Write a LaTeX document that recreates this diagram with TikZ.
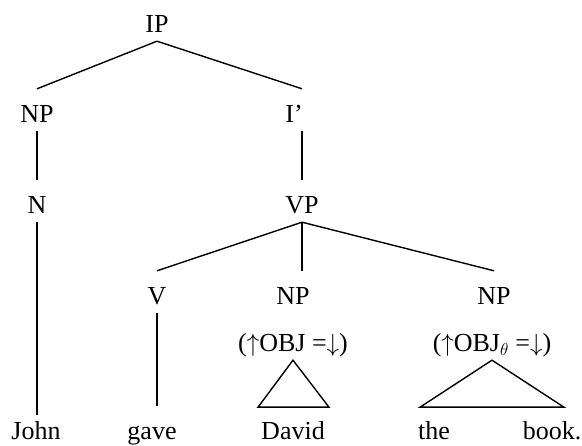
\documentclass[tikz,border=0pt]{standalone}
\usepackage{fontspec}
\setmainfont{Liberation Serif}
\usepackage{tikz}

\tikzset{
  cat/.style={anchor=base, inner sep=0pt, text height=34pt, text depth=8pt,
              font=\fontsize{26}{30}\selectfont},
  branch/.style={line width=1.4pt}
}

\begin{document}
\begin{tikzpicture}[x=1pt,y=-1pt]
  \useasboundingbox (0,0) rectangle (582,446);

  \draw (157,33)  node (ip)   [cat] {IP};

  \draw (37,123)  node (np1)  [cat] {NP};
  \draw (294,123) node (ibar) [cat] {I’};
  \draw (37,214)  node (n)    [cat] {N};
  \draw (302,214) node (vp)   [cat] {VP};

  \draw (157,305) node (v)    [cat] {V};
  \draw (293,305) node (np2)  [cat] {NP};
  \draw (494,305) node (np3)  [cat] {NP};

  \draw (293,352) node (obj)  [cat] {($\uparrow$OBJ =$\downarrow$)};
  \draw (492,352) node (objt) [cat] {($\uparrow$OBJ$_\theta$ =$\downarrow$)};

  \draw (36,440)  node (john)  [cat] {John};
  \draw (152,440) node (gave)  [cat] {gave};
  \draw (293,440) node (david) [cat] {David};
  \draw (434,440) node (the)   [cat] {the};
  \draw (552,440) node (book)  [cat] {book.};

  \draw[branch] (ip.south) -- (np1.north);
  \draw[branch] (ip.south) -- (vp.north |- ibar.north);
  \draw[branch] (np1.south) -- (n.north);
  \draw[branch] (vp.north |- ibar.south) -- (vp.north);
  \draw[branch, shorten >=-9pt] (n.south) -- (n.south |- john.north);

  \draw[branch] (vp.south) -- (v.north);
  \draw[branch] (vp.south) -- (vp.south |- np2.north);
  \draw[branch] (vp.south) -- (np3.north);
  \draw[branch] (v.south) -- (v.south |- gave.north);

  % triangles over the unanalysed objects
  \draw[branch, line join=miter] (obj.south) -- ++(-35,47) -- ++(71,0) -- cycle;
  \draw[branch, line join=miter] (objt.south) -- ++(-72,47) -- ++(144,0) -- cycle;
\end{tikzpicture}
\end{document}
